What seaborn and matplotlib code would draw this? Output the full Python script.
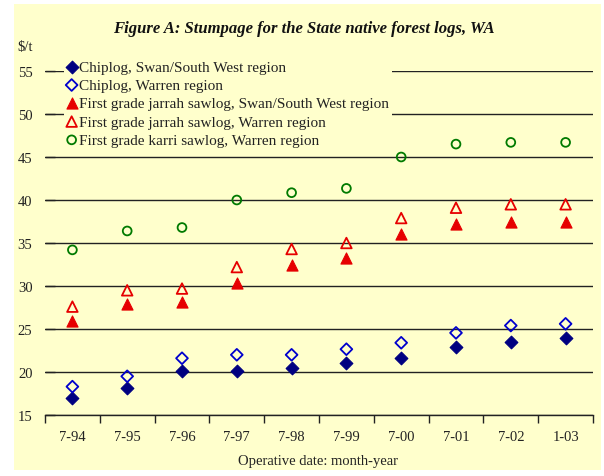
import numpy as np
import pandas as pd
import matplotlib
matplotlib.use("Agg")
import matplotlib.pyplot as plt
from matplotlib.patches import Rectangle
import seaborn as sns

# --- data ---
dates = ["7-94", "7-95", "7-96", "7-97", "7-98", "7-99", "7-00", "7-01", "7-02", "1-03"]
chip_ssw = [17.0, 18.1, 20.15, 20.15, 20.45, 21.1, 21.6, 22.85, 23.5, 23.9]
chip_warren = [18.3, 19.5, 21.6, 22.0, 22.0, 22.65, 23.4, 24.55, 25.4, 25.6]
jarrah_ssw = [25.95, 27.9, 28.1, 30.4, 32.5, 33.2, 36.0, 37.25, 37.4, 37.4]
jarrah_warren = [27.6, 29.5, 29.7, 32.2, 34.3, 35.0, 37.9, 39.1, 39.5, 39.5]
karri_warren = [34.2, 36.4, 36.8, 40.0, 40.85, 41.35, 45.0, 46.5, 46.7, 46.7]

series_names = [
    "Chiplog, Swan/South West region",
    "Chiplog, Warren region",
    "First grade jarrah sawlog, Swan/South West region",
    "First grade jarrah sawlog, Warren region",
    "First grade karri sawlog, Warren region",
]
series_values = [chip_ssw, chip_warren, jarrah_ssw, jarrah_warren, karri_warren]

rows = []
for name, vals in zip(series_names, series_values):
    for i, (d, v) in enumerate(zip(dates, vals)):
        rows.append({"series": name, "date": d, "pos": i, "value": v})
df = pd.DataFrame(rows)

# marker styles: (marker, colour, filled, size)
styles = {
    series_names[0]: ("D", "#000080", True, 42),
    series_names[1]: ("D", "#0000CC", False, 36),
    series_names[2]: ("^", "#E60000", True, 64),
    series_names[3]: ("^", "#E60000", False, 58),
    series_names[4]: ("o", "#007A00", False, 40),
}

sns.set_theme(style="white")
plt.rcParams["font.family"] = ["Liberation Serif", "DejaVu Serif"]

W, H = 604, 477
fig = plt.figure(figsize=(W / 100, H / 100), dpi=100)
fig.patch.set_facecolor("white")
bg = "#FFFFCC"
fig.patches.append(Rectangle((14 / W, 6 / H), (601 - 14) / W, (472 - 6) / H,
                             transform=fig.transFigure, facecolor=bg,
                             edgecolor="none", zorder=-10))

ax = fig.add_axes([45 / W, (H - 416) / H, (593 - 45) / W, (416 - 72) / H])
ax.set_facecolor("none")

for name in series_names:
    mk, col, filled, sz = styles[name]
    sub = df[df["series"] == name]
    sns.scatterplot(data=sub, x="pos", y="value", ax=ax, marker=mk, s=sz,
                    color=col, facecolor=col if filled else "none",
                    edgecolor=col, linewidth=0.8 if filled else 1.3,
                    label=name, zorder=3)

ax.set_xlim(-0.5, 9.5)
ax.set_ylim(15, 55)
ax.set_yticks(np.arange(15, 56, 5))
ax.yaxis.grid(True, color="#222222", linewidth=1.0)
ax.set_axisbelow(True)

# category boundaries get tick marks, labels sit between them
ax.set_xticks(np.arange(-0.5, 10, 1))
ax.set_xticklabels([])
ax.set_xticks(np.arange(10), minor=True)
ax.set_xticklabels(dates, minor=True)
ax.tick_params(axis="x", which="major", direction="out", length=6, width=1,
               color="#222222", bottom=True)
ax.tick_params(axis="x", which="minor", length=0, pad=11, labelsize=10.5,
               labelcolor="#222222")
ax.tick_params(axis="y", direction="in", length=7, width=1, color="#222222",
               left=True, pad=9, labelsize=10.5, labelcolor="#222222")

for s in ["top", "right", "left"]:
    ax.spines[s].set_visible(False)
ax.spines["bottom"].set_color("#222222")
ax.spines["bottom"].set_linewidth(1.0)

ax.set_xlabel("")
ax.set_ylabel("")
fig.text(318 / W, 1 - 462 / H, "Operative date: month-year", ha="center",
         va="center", fontsize=10.5, color="#222222")
fig.text(17 / W, 1 - 47 / H, "$/t", ha="left", va="center", fontsize=10.5,
         color="#222222")
fig.text(304 / W, 1 - 29 / H,
         "Figure A: Stumpage for the State native forest logs, WA",
         ha="center", va="center", fontsize=12, fontweight="bold",
         fontstyle="italic", color="#111111")

leg = ax.legend(loc="upper left", bbox_to_anchor=(64 / W, 1 - 58 / H),
                bbox_transform=fig.transFigure, frameon=True, fontsize=11,
                handlelength=0.6, handletextpad=0.2, labelspacing=0.3,
                borderpad=0.2, borderaxespad=0, markerscale=1.0)
leg.get_frame().set_facecolor(bg)
leg.get_frame().set_edgecolor("none")
leg.get_frame().set_alpha(1)
for t in leg.get_texts():
    t.set_color("#222222")

fig.savefig("out.png", dpi=100, facecolor=fig.get_facecolor())
